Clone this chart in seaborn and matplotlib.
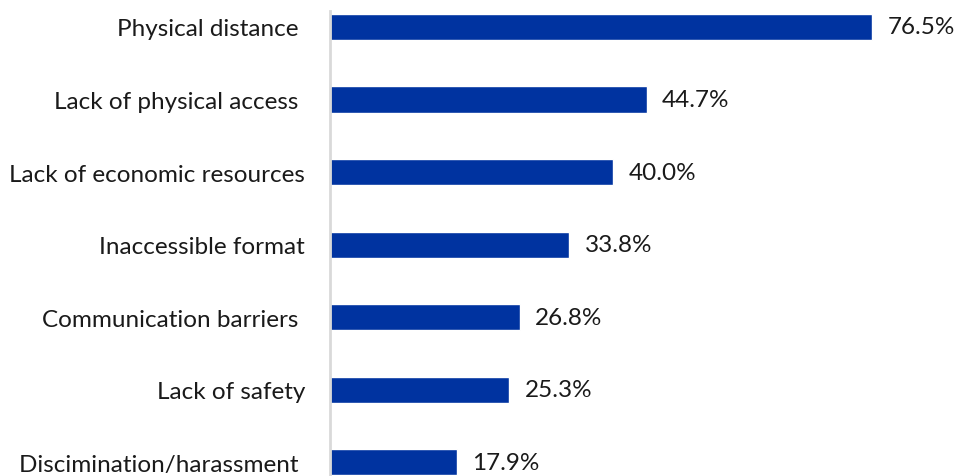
import matplotlib
matplotlib.use("Agg")
import matplotlib.pyplot as plt
import seaborn as sns
import pandas as pd

categories = ["Physical distance ", "Lack of physical access ", "Lack of economic resources",
              "Inaccessible format", "Communication barriers ", "Lack of safety",
              "Discimination/harassment "]
values = [76.5, 44.7, 40.0, 33.8, 26.8, 25.3, 17.9]

sns.set_theme(style="white")
plt.rcParams['font.family'] = ['Lato', 'DejaVu Sans']

df = pd.DataFrame({"cat": categories, "val": values})

fig = plt.figure(figsize=(9.59, 4.77), dpi=100)
ax = fig.add_axes([330 / 959, 0, 1 - 330 / 959, (477 - 12) / 477])
sns.barplot(data=df, x="val", y="cat", color="#0033A0", saturation=1, width=0.36, ax=ax, orient="h")

ax.set_xlim(0, (959 - 330) / 7.085)
ax.set_ylim(6.19, -0.22)
for s in ["top", "right", "bottom"]:
    ax.spines[s].set_visible(False)
ax.spines["left"].set_color("#D9D9D9")
ax.spines["left"].set_linewidth(2)
ax.set_xticks([])
ax.set_xlabel("")
ax.set_ylabel("")
ax.tick_params(axis="y", length=0, pad=18, labelsize=17.5, labelcolor="#1a1a1a")

ax.bar_label(ax.containers[0], labels=[f"{v:.1f}%" for v in values], padding=11,
             fontsize=17.5, color="#1a1a1a")

fig.savefig("out.png", dpi=100)
